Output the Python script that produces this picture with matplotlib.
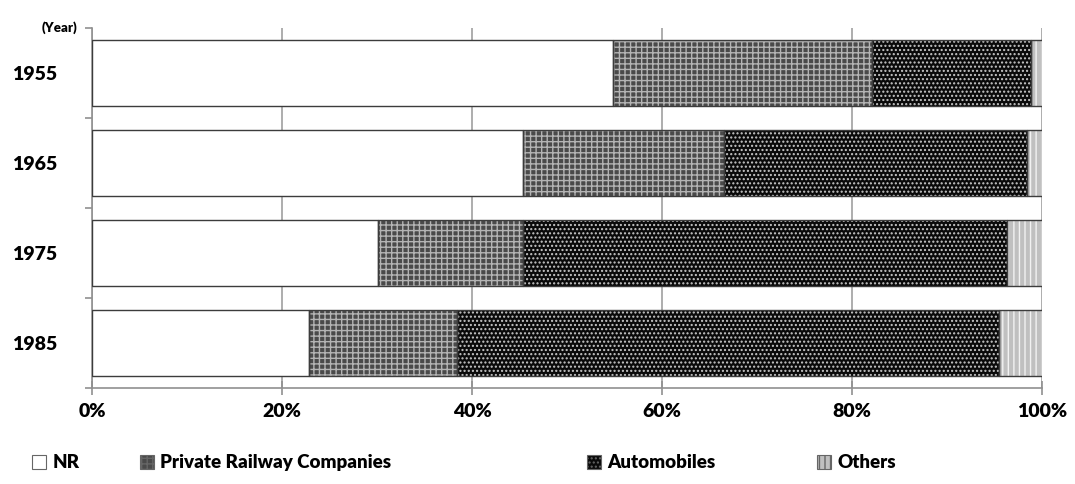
import numpy as np
import matplotlib.pyplot as plt
from matplotlib.patches import Patch

plt.rcParams['font.family'] = ['Lato', 'DejaVu Sans']
plt.rcParams['hatch.linewidth'] = 1.0

years = ['1955', '1965', '1975', '1985']
nr = [54.8, 45.4, 30.1, 22.8]
private_rail = [27.3, 21.1, 15.3, 15.6]
automobiles = [16.7, 31.9, 50.9, 57.1]
others = [1.2, 1.6, 3.7, 4.5]

series = [
    ('NR', nr, 'white', None, '#ffffff'),
    ('Private Railway Companies', private_rail, '#4a4a4a', '+++', '#b4b4b4'),
    ('Automobiles', automobiles, '#0a0a0a', '....', '#c8c8c8'),
    ('Others', others, '#c0c0c0', '|||', '#f2f2f2'),
]

fig = plt.figure(figsize=(10.75, 4.84), dpi=100)
ax = fig.add_axes([0.0856, 0.198, 0.8837, 0.744])

y = np.arange(len(years))
left = np.zeros(len(years))
handles = []
for name, vals, fc, hatch, hc in series:
    vals = np.array(vals)
    # fill + hatch first, then the border on top
    ax.barh(y, vals, left=left, height=0.74, color=fc, hatch=hatch,
            edgecolor=hc, linewidth=0, zorder=2)
    ax.barh(y, vals, left=left, height=0.74, fill=False,
            edgecolor='#3c3c3c', linewidth=1.0, zorder=3)
    left = left + vals
    handles.append(Patch(facecolor=fc, hatch=hatch, edgecolor='#666666', linewidth=0.8, label=name))

ax.set_xlim(0, 100)
ax.set_ylim(3.5, -0.5)
ax.set_xticks(np.arange(0, 101, 20))
ax.set_xticklabels([f'{v}%' for v in range(0, 101, 20)], fontsize=14, fontweight='heavy')
ax.xaxis.grid(True, color='#a0a0a0', linewidth=1.2, zorder=0)
ax.set_axisbelow(True)

ax.set_yticks(y)
ax.set_yticklabels(years, fontsize=14, fontweight='heavy')
ax.set_yticks(np.arange(-0.5, 3.6, 1), minor=True)
ax.tick_params(axis='y', which='major', length=0, pad=25)
ax.tick_params(axis='y', which='minor', length=5, color='#909090', width=1.2)
ax.tick_params(axis='x', length=10, direction='inout', color='#909090', width=1.2, pad=6)

for s in ['top', 'right']:
    ax.spines[s].set_visible(False)
for s in ['left', 'bottom']:
    ax.spines[s].set_color('#909090')
    ax.spines[s].set_linewidth(1.2)

ax.text(-1.5, -0.5, '(Year)', ha='right', va='center', fontsize=9.5, fontweight='heavy')

# legend entries sit at uneven spacing in the original, so one legend per entry
legend_x = [0.030, 0.130, 0.546, 0.760]
for h, lx in zip(handles, legend_x):
    fig.legend(handles=[h], loc='center left', bbox_to_anchor=(lx, 0.044),
               frameon=False, prop={'weight': 'heavy', 'size': 13.5},
               handlelength=0.75, handleheight=0.75, handletextpad=0.35,
               borderpad=0, borderaxespad=0)

fig.savefig('out.png', dpi=100)
